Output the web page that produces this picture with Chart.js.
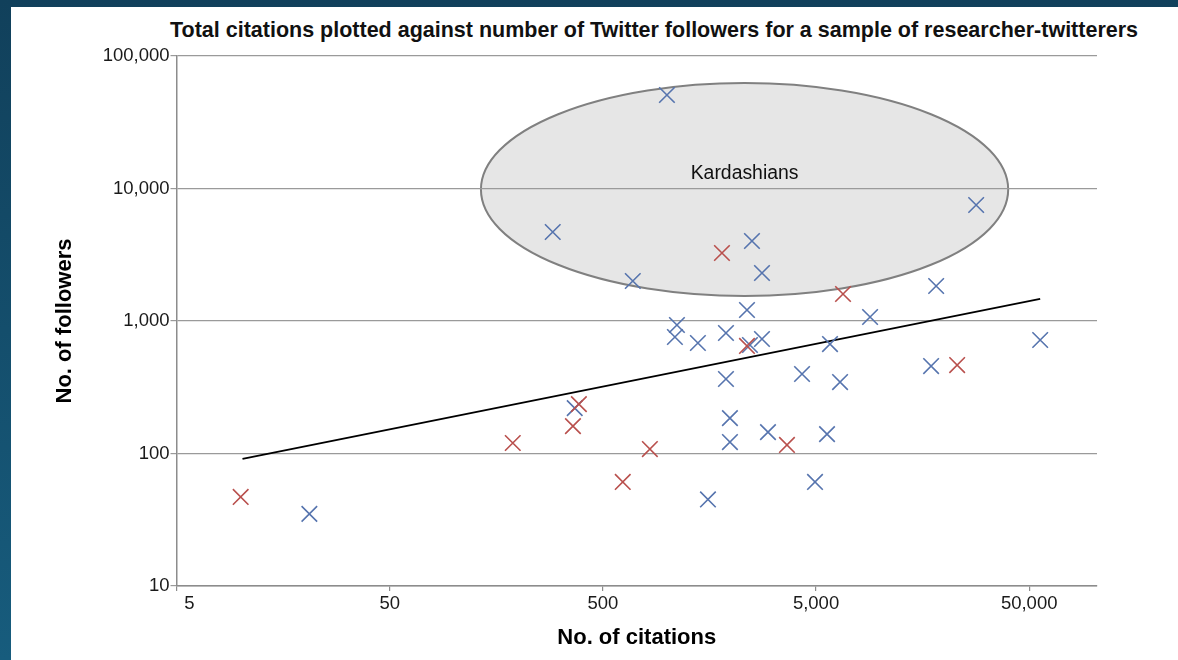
<!DOCTYPE html>
<html lang="en">
<head>
<meta charset="utf-8">
<title>Citations vs Twitter followers</title>
<script src="https://cdn.jsdelivr.net/npm/chart.js@4.4.1/dist/chart.umd.min.js"></script>
<style>
    html, body { margin: 0; padding: 0; }
    body {
        width: 1178px;
        height: 660px;
        overflow: hidden;
        position: relative;
        background: linear-gradient(to bottom, #11405b, #175c7d);
        font-family: "Liberation Sans", Arial, sans-serif;
    }
    #pannello {
        position: absolute;
        left: 11px;
        top: 7px;
        width: 1167px;
        height: 653px;
        background: #fff;
    }
    #titolo {
        position: absolute;
        left: 643px;
        top: 10px;
        margin: 0;
        transform: translateX(-50%);
        white-space: nowrap;
        font-size: 21.5px;
        line-height: 26px;
        font-weight: bold;
        color: #111;
    }
    #grafico { position: absolute; left: 0; top: 0; }
</style>
</head>
<body>
<div id="pannello">
    <h1 id="titolo">Total citations plotted against number of Twitter followers for a sample of researcher-twitterers</h1>
    <canvas id="grafico" width="1167" height="653"></canvas>
</div>
<script>
// Ricercatori (serie rossa): citazioni e follower
const citazioniRossi = [10, 189, 362, 386, 620, 831, 1810, 2372, 3653, 6693, 22960];
const followerRossi = [47, 120, 161, 236, 61, 108, 3261, 648, 116, 1599, 465];

// Ricercatori (serie blu)
const citazioniBlu = [21, 291, 369, 691, 999, 1113, 1089, 1396, 1556, 1890, 1890, 1973, 1973, 2372,
    2503, 2449, 2789, 2789, 2976, 4299, 4946, 5631, 5815, 6482, 8965, 17330, 18300, 28190, 56300];
const followerBlu = [35, 4695, 220, 2004, 50780, 933, 757, 682, 45, 812, 365, 185, 122, 1211,
    4016, 659, 731, 2303, 145, 398, 61, 140, 670, 346, 1072, 457, 1838, 7508, 719];

// Retta di tendenza (estremi)
const citazioniTrend = [10.2, 56300];
const followerTrend = [91, 1466];

// Etichette degli assi
const tickCitazioni = [5, 50, 500, 5000, 50000];
const tickFollower = [10, 100, 1000, 10000, 100000];

// Zona "Kardashians" in coordinate dei dati
const zonaKardashians = {
    testo: "Kardashians",
    citazioniMin: 134, citazioniMax: 39850,
    followerMin: 1545, followerMax: 62500,
    followerTesto: 13000
};

const punti = (xs, ys) => xs.map((x, i) => ({ x: x, y: ys[i] }));
const formatta = v => Number(v).toLocaleString("en-US");
const FONT = '"Liberation Sans", Arial, sans-serif';

// Ellisse disegnata sotto la griglia
const pluginEllisse = {
    id: "ellisse",
    beforeDraw(chart) {
        const { ctx, scales: { x, y } } = chart;
        const z = zonaKardashians;
        const x1 = x.getPixelForValue(z.citazioniMin);
        const x2 = x.getPixelForValue(z.citazioniMax);
        const y1 = y.getPixelForValue(z.followerMax);
        const y2 = y.getPixelForValue(z.followerMin);
        const cx = (x1 + x2) / 2;
        const cy = (y1 + y2) / 2;
        ctx.save();
        ctx.beginPath();
        ctx.ellipse(cx, cy, (x2 - x1) / 2, (y2 - y1) / 2, 0, 0, Math.PI * 2);
        ctx.fillStyle = "#e6e6e6";
        ctx.fill();
        ctx.lineWidth = 2;
        ctx.strokeStyle = "#808080";
        ctx.stroke();
        ctx.font = "19.4px " + FONT;
        ctx.fillStyle = "#111";
        ctx.textAlign = "center";
        ctx.textBaseline = "middle";
        ctx.fillText(z.testo, cx, y.getPixelForValue(z.followerTesto));
        ctx.restore();
    }
};

const ctx = document.getElementById("grafico").getContext("2d");
new Chart(ctx, {
    type: "scatter",
    data: {
        datasets: [
            {
                label: "Rossi",
                data: punti(citazioniRossi, followerRossi),
                pointStyle: "crossRot",
                pointRadius: 11,
                pointHoverRadius: 11,
                pointBorderWidth: 1.6,
                borderColor: "#b9504d",
                backgroundColor: "#b9504d"
            },
            {
                label: "Blu",
                data: punti(citazioniBlu, followerBlu),
                pointStyle: "crossRot",
                pointRadius: 11,
                pointHoverRadius: 11,
                pointBorderWidth: 1.6,
                borderColor: "#5674ae",
                backgroundColor: "#5674ae"
            },
            {
                label: "Tendenza",
                data: punti(citazioniTrend, followerTrend),
                showLine: true,
                pointRadius: 0,
                borderColor: "#000",
                borderWidth: 1.8
            }
        ]
    },
    options: {
        responsive: false,
        animation: false,
        events: [],
        layout: { padding: { top: 49, right: 81, bottom: 0, left: 0 } },
        plugins: {
            legend: { display: false },
            tooltip: { enabled: false }
        },
        scales: {
            x: {
                type: "logarithmic",
                position: "bottom",
                min: 5,
                max: 104000,
                afterBuildTicks: s => { s.ticks = tickCitazioni.map(v => ({ value: v })); },
                afterFit: s => { s.height = 74; },
                ticks: {
                    autoSkip: false,
                    maxRotation: 0,
                    padding: 2,
                    color: "#1a1a1a",
                    font: { family: FONT, size: 18.5 },
                    // la prima etichetta sta un po' a destra dell'angolo
                    callback: v => v === 5 ? "     5" : formatta(v)
                },
                grid: { drawOnChartArea: false, tickLength: 5, color: "#8c8c8c", lineWidth: 1.2 },
                border: { color: "#8c8c8c", width: 1.5 },
                title: {
                    display: true,
                    text: "No. of citations",
                    color: "#000",
                    font: { family: FONT, size: 22, weight: "bold" },
                    padding: { top: 0, bottom: 9 }
                }
            },
            y: {
                type: "logarithmic",
                min: 10,
                max: 100000,
                afterBuildTicks: s => { s.ticks = tickFollower.map(v => ({ value: v })); },
                afterFit: s => { s.width = 165.5; },
                ticks: {
                    padding: 1,
                    color: "#1a1a1a",
                    font: { family: FONT, size: 18.5 },
                    callback: v => formatta(v)
                },
                grid: { color: "#9a9a9a", lineWidth: 1.2, tickLength: 6 },
                border: { color: "#8c8c8c", width: 1.5 },
                title: {
                    display: true,
                    text: "No. of followers",
                    color: "#000",
                    font: { family: FONT, size: 22, weight: "bold" },
                    padding: { top: 41, bottom: 0 }
                }
            }
        }
    },
    plugins: [pluginEllisse]
});
</script>
</body>
</html>
